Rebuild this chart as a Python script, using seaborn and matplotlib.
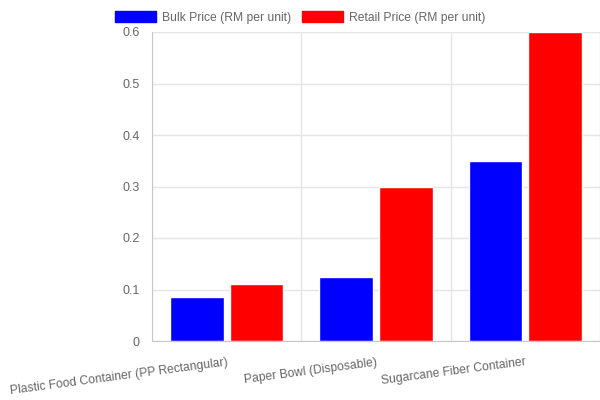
import pandas as pd
import matplotlib
matplotlib.use("Agg")
import matplotlib.pyplot as plt
import seaborn as sns
from matplotlib.ticker import FixedLocator, FuncFormatter

# data
products = ["Plastic Food Container (PP Rectangular)", "Paper Bowl (Disposable)", "Sugarcane Fiber Container"]
bulk_price = [0.085, 0.125, 0.35]
retail_price = [0.11, 0.30, 0.60]
series = ["Bulk Price (RM per unit)", "Retail Price (RM per unit)"]
colors = ["#0000ff", "#ff0000"]

df = pd.DataFrame({
    "product": products * 2,
    "price": bulk_price + retail_price,
    "series": [series[0]] * 3 + [series[1]] * 3,
})

sns.set_style("white")
plt.rcParams["font.family"] = ["Liberation Sans", "DejaVu Sans"]

fig = plt.figure(figsize=(6, 4), dpi=100)
ax = fig.add_axes([0.2533, 0.1475, 0.7467, 0.7725])

sns.barplot(data=df, x="product", y="price", hue="series", palette=colors,
            width=0.8, gap=0.1, saturation=1, ax=ax, legend=False)

ax.set_xlim(-0.5, 2.5)
ax.set_ylim(0, 0.6)
ax.set_yticks([0, 0.1, 0.2, 0.3, 0.4, 0.5, 0.6])
ax.yaxis.set_major_formatter(FuncFormatter(lambda v, p: "%g" % round(v, 2)))
ax.xaxis.set_minor_locator(FixedLocator([-0.5, 0.5, 1.5, 2.5]))

grid_col = "#e5e5e5"
ax.grid(True, axis="y", color=grid_col, linewidth=1)
ax.grid(True, axis="x", which="minor", color=grid_col, linewidth=1)
ax.set_axisbelow(True)
ax.tick_params(axis="y", length=5, color=grid_col, labelcolor="#666666", labelsize=9, pad=4)
ax.tick_params(axis="x", which="major", length=0, labelcolor="#666666", labelsize=8.7, pad=11)
ax.tick_params(axis="x", which="minor", length=5, color=grid_col)
for lab in ax.get_xticklabels():
    lab.set_rotation(7.5)
    lab.set_ha("right")
    lab.set_rotation_mode("anchor")

for s in ["top", "right"]:
    ax.spines[s].set_visible(False)
for s in ["left", "bottom"]:
    ax.spines[s].set_color("#c8c8c8")

ax.set_xlabel("")
ax.set_ylabel("")

handles = [plt.Rectangle((0, 0), 1, 1, color=c) for c in colors]
fig.legend(handles, series, loc="upper center", bbox_to_anchor=(0.5, 1.0), ncol=2,
           frameon=False, fontsize=8.75, labelcolor="#666666",
           handlelength=3.4, handleheight=1.0, columnspacing=0.85, handletextpad=0.5)

fig.savefig("out.png", dpi=100)
